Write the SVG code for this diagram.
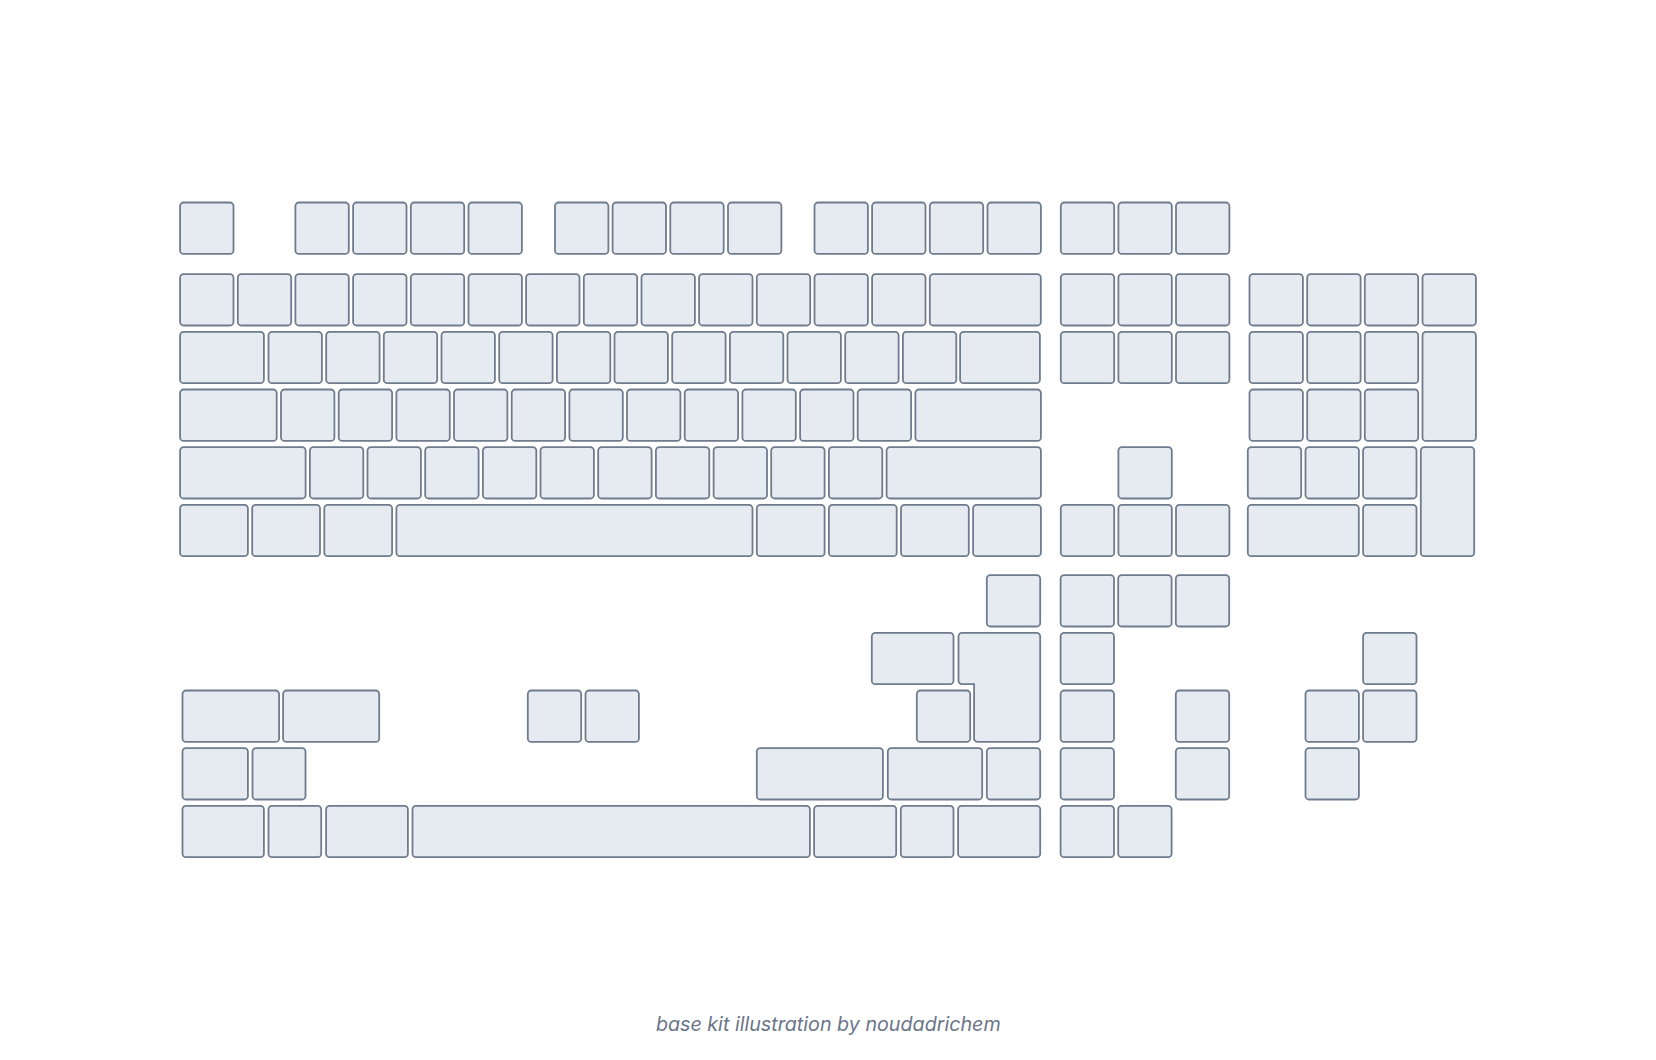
<svg xmlns="http://www.w3.org/2000/svg" width="1656" height="1060" viewBox="0 0 1656 1060">
<style>
.k rect, .k path { fill: #e6ebf2; stroke: #6f7c8d; stroke-width: 1.8; }
.cap { font-family: Inter, "Noto Sans", "DejaVu Sans", sans-serif; font-style: italic; font-size: 19.7px; fill: #6b7588; }
</style>
<rect width="1656" height="1060" fill="#ffffff"/>
<g class="k">
<g id="frow">
<rect x="180.1" y="202.5" width="53.4" height="51.4" rx="3.5"/>
<rect x="295.4" y="202.5" width="53.4" height="51.4" rx="3.5"/>
<rect x="353.1" y="202.5" width="53.4" height="51.4" rx="3.5"/>
<rect x="410.8" y="202.5" width="53.4" height="51.4" rx="3.5"/>
<rect x="468.5" y="202.5" width="53.4" height="51.4" rx="3.5"/>
<rect x="555.0" y="202.5" width="53.4" height="51.4" rx="3.5"/>
<rect x="612.6" y="202.5" width="53.4" height="51.4" rx="3.5"/>
<rect x="670.3" y="202.5" width="53.4" height="51.4" rx="3.5"/>
<rect x="728.0" y="202.5" width="53.4" height="51.4" rx="3.5"/>
<rect x="814.5" y="202.5" width="53.4" height="51.4" rx="3.5"/>
<rect x="872.1" y="202.5" width="53.4" height="51.4" rx="3.5"/>
<rect x="929.8" y="202.5" width="53.4" height="51.4" rx="3.5"/>
<rect x="987.5" y="202.5" width="53.4" height="51.4" rx="3.5"/>
</g>
<g id="row1">
<rect x="180.1" y="274.1" width="53.4" height="51.4" rx="3.5"/>
<rect x="237.8" y="274.1" width="53.4" height="51.4" rx="3.5"/>
<rect x="295.4" y="274.1" width="53.4" height="51.4" rx="3.5"/>
<rect x="353.1" y="274.1" width="53.4" height="51.4" rx="3.5"/>
<rect x="410.8" y="274.1" width="53.4" height="51.4" rx="3.5"/>
<rect x="468.5" y="274.1" width="53.4" height="51.4" rx="3.5"/>
<rect x="526.1" y="274.1" width="53.4" height="51.4" rx="3.5"/>
<rect x="583.8" y="274.1" width="53.4" height="51.4" rx="3.5"/>
<rect x="641.5" y="274.1" width="53.4" height="51.4" rx="3.5"/>
<rect x="699.1" y="274.1" width="53.4" height="51.4" rx="3.5"/>
<rect x="756.8" y="274.1" width="53.4" height="51.4" rx="3.5"/>
<rect x="814.5" y="274.1" width="53.4" height="51.4" rx="3.5"/>
<rect x="872.1" y="274.1" width="53.4" height="51.4" rx="3.5"/>
<rect x="929.8" y="274.1" width="111.0" height="51.4" rx="3.5"/>
</g>
<g id="row2">
<rect x="180.1" y="331.8" width="83.8" height="51.4" rx="3.5"/>
<rect x="268.5" y="331.8" width="53.4" height="51.4" rx="3.5"/>
<rect x="326.2" y="331.8" width="53.4" height="51.4" rx="3.5"/>
<rect x="383.8" y="331.8" width="53.4" height="51.4" rx="3.5"/>
<rect x="441.5" y="331.8" width="53.4" height="51.4" rx="3.5"/>
<rect x="499.2" y="331.8" width="53.4" height="51.4" rx="3.5"/>
<rect x="556.9" y="331.8" width="53.4" height="51.4" rx="3.5"/>
<rect x="614.5" y="331.8" width="53.4" height="51.4" rx="3.5"/>
<rect x="672.2" y="331.8" width="53.4" height="51.4" rx="3.5"/>
<rect x="729.9" y="331.8" width="53.4" height="51.4" rx="3.5"/>
<rect x="787.5" y="331.8" width="53.4" height="51.4" rx="3.5"/>
<rect x="845.2" y="331.8" width="53.4" height="51.4" rx="3.5"/>
<rect x="902.9" y="331.8" width="53.4" height="51.4" rx="3.5"/>
<rect x="960.1" y="331.8" width="79.8" height="51.4" rx="3.5"/>
</g>
<g id="row3">
<rect x="180.1" y="389.5" width="96.6" height="51.4" rx="3.5"/>
<rect x="281.0" y="389.5" width="53.4" height="51.4" rx="3.5"/>
<rect x="338.7" y="389.5" width="53.4" height="51.4" rx="3.5"/>
<rect x="396.4" y="389.5" width="53.4" height="51.4" rx="3.5"/>
<rect x="454.0" y="389.5" width="53.4" height="51.4" rx="3.5"/>
<rect x="511.7" y="389.5" width="53.4" height="51.4" rx="3.5"/>
<rect x="569.4" y="389.5" width="53.4" height="51.4" rx="3.5"/>
<rect x="627.0" y="389.5" width="53.4" height="51.4" rx="3.5"/>
<rect x="684.7" y="389.5" width="53.4" height="51.4" rx="3.5"/>
<rect x="742.4" y="389.5" width="53.4" height="51.4" rx="3.5"/>
<rect x="800.1" y="389.5" width="53.4" height="51.4" rx="3.5"/>
<rect x="857.7" y="389.5" width="53.4" height="51.4" rx="3.5"/>
<rect x="915.4" y="389.5" width="125.5" height="51.4" rx="3.5"/>
</g>
<g id="row4">
<rect x="180.1" y="447.1" width="125.5" height="51.4" rx="3.5"/>
<rect x="309.9" y="447.1" width="53.4" height="51.4" rx="3.5"/>
<rect x="367.5" y="447.1" width="53.4" height="51.4" rx="3.5"/>
<rect x="425.2" y="447.1" width="53.4" height="51.4" rx="3.5"/>
<rect x="482.9" y="447.1" width="53.4" height="51.4" rx="3.5"/>
<rect x="540.5" y="447.1" width="53.4" height="51.4" rx="3.5"/>
<rect x="598.2" y="447.1" width="53.4" height="51.4" rx="3.5"/>
<rect x="655.9" y="447.1" width="53.4" height="51.4" rx="3.5"/>
<rect x="713.6" y="447.1" width="53.4" height="51.4" rx="3.5"/>
<rect x="771.2" y="447.1" width="53.4" height="51.4" rx="3.5"/>
<rect x="828.9" y="447.1" width="53.4" height="51.4" rx="3.5"/>
<rect x="886.6" y="447.1" width="154.3" height="51.4" rx="3.5"/>
</g>
<g id="row5">
<rect x="180.1" y="504.8" width="67.8" height="51.4" rx="3.5"/>
<rect x="252.2" y="504.8" width="67.8" height="51.4" rx="3.5"/>
<rect x="324.3" y="504.8" width="67.8" height="51.4" rx="3.5"/>
<rect x="396.4" y="504.8" width="356.1" height="51.4" rx="3.5"/>
<rect x="756.8" y="504.8" width="67.8" height="51.4" rx="3.5"/>
<rect x="828.9" y="504.8" width="67.8" height="51.4" rx="3.5"/>
<rect x="901.0" y="504.8" width="67.8" height="51.4" rx="3.5"/>
<rect x="973.1" y="504.8" width="67.8" height="51.4" rx="3.5"/>
</g>
<g id="nav">
<rect x="1060.8" y="202.5" width="53.4" height="51.4" rx="3.5"/>
<rect x="1118.4" y="202.5" width="53.4" height="51.4" rx="3.5"/>
<rect x="1176.0" y="202.5" width="53.4" height="51.4" rx="3.5"/>
<rect x="1060.8" y="274.1" width="53.4" height="51.4" rx="3.5"/>
<rect x="1118.4" y="274.1" width="53.4" height="51.4" rx="3.5"/>
<rect x="1176.0" y="274.1" width="53.4" height="51.4" rx="3.5"/>
<rect x="1060.8" y="331.8" width="53.4" height="51.4" rx="3.5"/>
<rect x="1118.4" y="331.8" width="53.4" height="51.4" rx="3.5"/>
<rect x="1176.0" y="331.8" width="53.4" height="51.4" rx="3.5"/>
<rect x="1118.4" y="447.1" width="53.4" height="51.4" rx="3.5"/>
<rect x="1060.8" y="504.8" width="53.4" height="51.4" rx="3.5"/>
<rect x="1118.4" y="504.8" width="53.4" height="51.4" rx="3.5"/>
<rect x="1176.0" y="504.8" width="53.4" height="51.4" rx="3.5"/>
</g>
<g id="numpad">
<rect x="1249.5" y="274.1" width="53.4" height="51.4" rx="3.5"/>
<rect x="1307.2" y="274.1" width="53.4" height="51.4" rx="3.5"/>
<rect x="1364.8" y="274.1" width="53.4" height="51.4" rx="3.5"/>
<rect x="1422.5" y="274.1" width="53.4" height="51.4" rx="3.5"/>
<rect x="1249.5" y="331.8" width="53.4" height="51.4" rx="3.5"/>
<rect x="1307.2" y="331.8" width="53.4" height="51.4" rx="3.5"/>
<rect x="1364.8" y="331.8" width="53.4" height="51.4" rx="3.5"/>
<rect x="1422.5" y="331.8" width="53.4" height="109.1" rx="3.5"/>
<rect x="1249.5" y="389.5" width="53.4" height="51.4" rx="3.5"/>
<rect x="1307.2" y="389.5" width="53.4" height="51.4" rx="3.5"/>
<rect x="1364.8" y="389.5" width="53.4" height="51.4" rx="3.5"/>
<rect x="1247.8" y="447.1" width="53.4" height="51.4" rx="3.5"/>
<rect x="1305.5" y="447.1" width="53.4" height="51.4" rx="3.5"/>
<rect x="1363.1" y="447.1" width="53.4" height="51.4" rx="3.5"/>
<rect x="1420.8" y="447.1" width="53.4" height="109.1" rx="3.5"/>
<rect x="1247.8" y="504.8" width="111.0" height="51.4" rx="3.5"/>
<rect x="1363.1" y="504.8" width="53.4" height="51.4" rx="3.5"/>
</g>
<g id="extras-left">
<rect x="182.5" y="690.5" width="96.6" height="51.4" rx="3.5"/>
<rect x="283.1" y="690.5" width="96.1" height="51.4" rx="3.5"/>
<rect x="527.8" y="690.5" width="53.4" height="51.4" rx="3.5"/>
<rect x="585.5" y="690.5" width="53.4" height="51.4" rx="3.5"/>
<rect x="182.5" y="748.1" width="65.4" height="51.4" rx="3.5"/>
<rect x="252.5" y="748.1" width="53.0" height="51.4" rx="3.5"/>
<rect x="182.5" y="805.8" width="81.4" height="51.4" rx="3.5"/>
<rect x="268.5" y="805.8" width="52.7" height="51.4" rx="3.5"/>
<rect x="326.1" y="805.8" width="81.8" height="51.4" rx="3.5"/>
<rect x="412.5" y="805.8" width="397.4" height="51.4" rx="3.5"/>
<rect x="814.1" y="805.8" width="82.1" height="51.4" rx="3.5"/>
<rect x="900.8" y="805.8" width="52.7" height="51.4" rx="3.5"/>
<rect x="958.1" y="805.8" width="82.1" height="51.4" rx="3.5"/>
</g>
<g id="extras-right">
<rect x="986.8" y="575.1" width="53.4" height="51.4" rx="3.5"/>
<rect x="871.8" y="632.8" width="81.7" height="51.4" rx="3.5"/>
<path d="M 962 632.8 H 1036.7 A 3.5 3.5 0 0 1 1040.2 636.3 V 738.4 A 3.5 3.5 0 0 1 1036.7 741.9 H 977.6 A 3.5 3.5 0 0 1 974.1 738.4 V 684.2 H 962 A 3.5 3.5 0 0 1 958.5 680.7 V 636.3 A 3.5 3.5 0 0 1 962 632.8 Z"/>
<rect x="916.8" y="690.5" width="53.4" height="51.4" rx="3.5"/>
<rect x="756.8" y="748.1" width="126.1" height="51.4" rx="3.5"/>
<rect x="887.8" y="748.1" width="94.4" height="51.4" rx="3.5"/>
<rect x="986.8" y="748.1" width="53.4" height="51.4" rx="3.5"/>
</g>
<g id="extras-nav">
<rect x="1060.6" y="575.1" width="53.4" height="51.4" rx="3.5"/>
<rect x="1118.2" y="575.1" width="53.4" height="51.4" rx="3.5"/>
<rect x="1175.8" y="575.1" width="53.4" height="51.4" rx="3.5"/>
<rect x="1060.6" y="632.8" width="53.4" height="51.4" rx="3.5"/>
<rect x="1060.6" y="690.5" width="53.4" height="51.4" rx="3.5"/>
<rect x="1175.8" y="690.5" width="53.4" height="51.4" rx="3.5"/>
<rect x="1060.6" y="748.1" width="53.4" height="51.4" rx="3.5"/>
<rect x="1175.8" y="748.1" width="53.4" height="51.4" rx="3.5"/>
<rect x="1060.6" y="805.8" width="53.4" height="51.4" rx="3.5"/>
<rect x="1118.2" y="805.8" width="53.4" height="51.4" rx="3.5"/>
</g>
<g id="extras-numpad">
<rect x="1363.1" y="632.8" width="53.4" height="51.4" rx="3.5"/>
<rect x="1305.5" y="690.5" width="53.4" height="51.4" rx="3.5"/>
<rect x="1363.1" y="690.5" width="53.4" height="51.4" rx="3.5"/>
<rect x="1305.5" y="748.1" width="53.4" height="51.4" rx="3.5"/>
</g>
</g>
<text class="cap" x="828.3" y="1031" text-anchor="middle">base kit illustration by noudadrichem</text>
</svg>
